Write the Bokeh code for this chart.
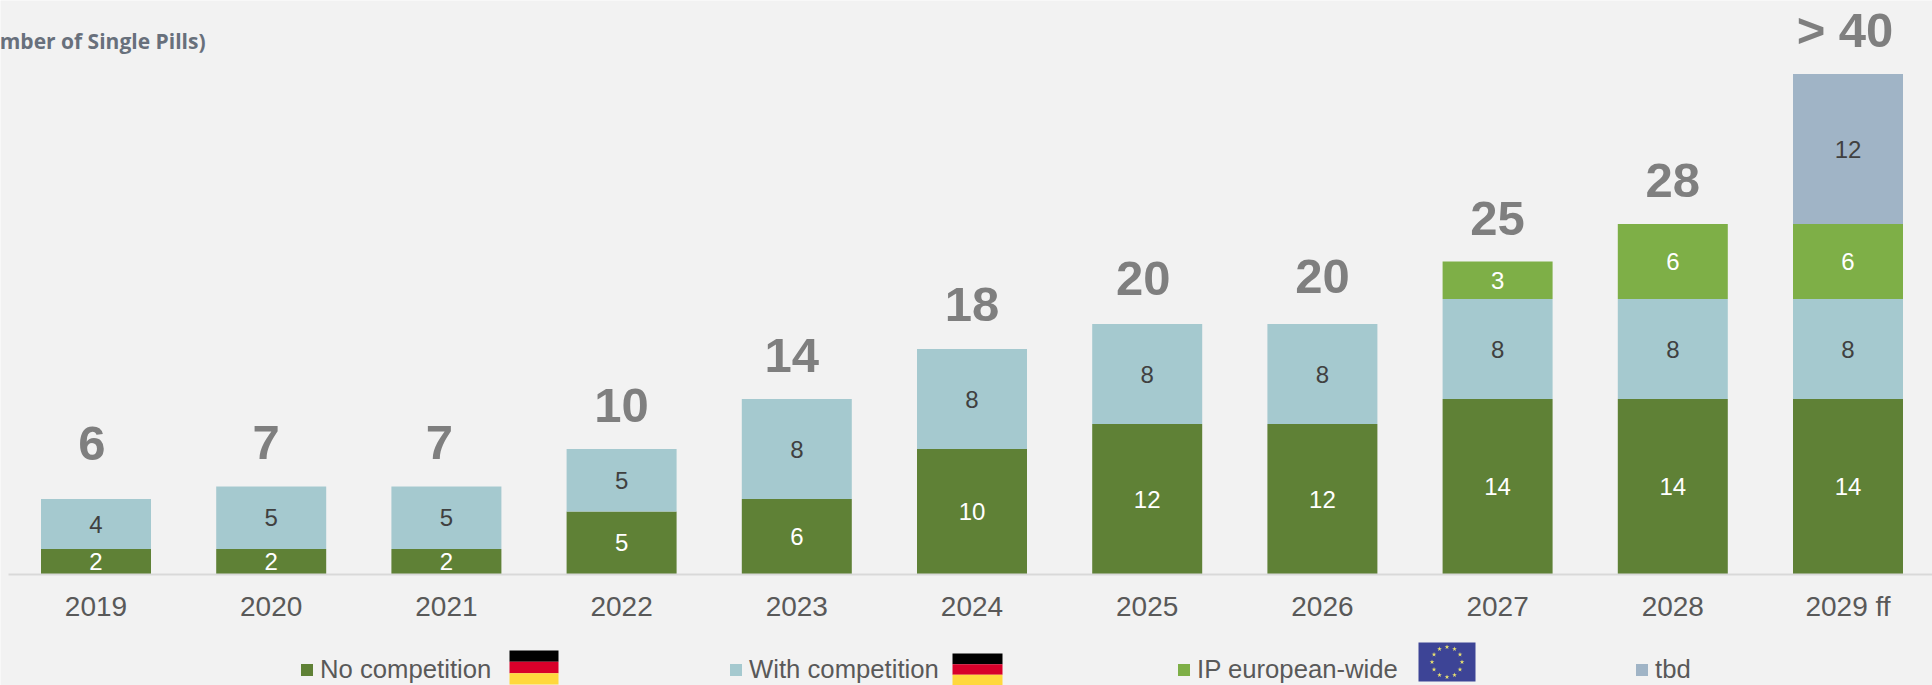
from bokeh.plotting import figure
from bokeh.models import (ColumnDataSource, Range1d, FixedTicker, Legend, LegendItem)
from bokeh.core.properties import value
from bokeh.embed import file_html
from bokeh.resources import INLINE
import math

# ---- data ----
years = ["2019", "2020", "2021", "2022", "2023", "2024", "2025", "2026", "2027", "2028", "2029 ff"]
no_competition = [2, 2, 2, 5, 6, 10, 12, 12, 14, 14, 14]
with_competition = [4, 5, 5, 5, 8, 8, 8, 8, 8, 8, 8]
ip_european = [0, 0, 0, 0, 0, 0, 0, 0, 3, 6, 6]
tbd = [0, 0, 0, 0, 0, 0, 0, 0, 0, 0, 12]
total_labels = ["6", "7", "7", "10", "14", "18", "20", "20", "25", "28", "> 40"]
series_names = ["No competition", "With competition", "IP european-wide", "tbd"]
title_text = "mber of Single Pills)"

# ---- style / layout ----
W, H = 1932, 685
BG = "#f2f2f2"
colors = ["#5f8136", "#a5c9cf", "#7eaf47", "#a0b4c6"]
label_colors = ["#ffffff", "#404040", "#ffffff", "#404040"]
FONT = "Liberation Sans"
PX_X = 175.2
X0 = 95.5
PX_Y = 12.5
BASE = 573.5
total_lift = [56, 44, 44, 44, 44, 45, 46, 48, 43, 44, 44]
total_nudge = [-4, -5, -7, 0, -5, 0, -4, 0, 0, 0, -3]


def dx(px):
    return (px - X0) / PX_X


def dy(py):
    return (BASE - py) / PX_Y


p = figure(width=W, height=H, output_backend="svg", toolbar_location=None,
           x_range=Range1d(dx(0), dx(W)), y_range=Range1d(dy(H), dy(0)),
           min_border=0, background_fill_color=BG, border_fill_color=BG,
           outline_line_color=None)
p.grid.visible = False
p.yaxis.visible = False

xs = list(range(len(years)))
series = [no_competition, with_competition, ip_european, tbd]
bottom = [0] * len(xs)
renderers = []
seg_x, seg_y, seg_t, seg_c = [], [], [], []
for vals, col, lc in zip(series, colors, label_colors):
    top = [b + v for b, v in zip(bottom, vals)]
    src = ColumnDataSource(dict(x=xs, bottom=bottom, top=top))
    renderers.append(p.vbar(x="x", bottom="bottom", top="top", width=110 / PX_X, source=src,
                            fill_color=col, line_color=None))
    for i, v in enumerate(vals):
        if v:
            seg_x.append(i)
            seg_y.append(bottom[i] + v / 2)
            seg_t.append(str(v))
            seg_c.append(lc)
    bottom = top

p.text(x="x", y="y", text="t", text_color="c",
       source=ColumnDataSource(dict(x=seg_x, y=seg_y, t=seg_t, c=seg_c)),
       text_font=value(FONT), text_font_size="24px", text_align="center", text_baseline="middle")

p.text(x="x", y="y", text="t", x_offset="n", y_offset="o",
       source=ColumnDataSource(dict(x=xs, y=bottom, t=total_labels, n=total_nudge,
                                    o=[-v for v in total_lift])),
       text_font=value(FONT), text_font_size="49px", text_font_style="bold", text_color="#7f7f7f",
       text_align="center", text_baseline="middle")

# axis on the baseline
ax = p.xaxis[0]
ax.fixed_location = 0
ax.ticker = FixedTicker(ticks=xs)
ax.major_label_overrides = {i: y for i, y in enumerate(years)}
ax.major_tick_line_color = None
ax.minor_tick_line_color = None
ax.axis_line_color = "#d9d9d9"
ax.axis_line_width = 2
ax.bounds = (dx(8), dx(W))
ax.major_label_text_font = FONT
ax.major_label_text_font_size = "28px"
ax.major_label_text_color = "#595959"
ax.major_label_standoff = 11

# title fragment, clipped at the left edge in the reference
p.text(x=[dx(205)], y=[dy(40)], text=[title_text], text_font=value("Open Sans"),
       text_font_size="21px", text_font_style="bold", text_color="#68707c",
       text_align="right", text_baseline="middle")

# legends
legend_px = [299, 728, 1176, 1634]
for r, name, lx in zip(renderers, series_names, legend_px):
    leg = Legend(items=[LegendItem(label=name, renderers=[r])],
                 location=(lx, H - 684), orientation="horizontal",
                 glyph_width=15, glyph_height=15, label_standoff=6, padding=0, margin=0,
                 background_fill_alpha=0, border_line_color=None,
                 label_text_font=FONT, label_text_font_size="25.7px", label_text_color="#595959",
                 label_height=30)
    p.add_layout(leg, "center")


# flags (decorative)
def flag(x0, x1, y0, y1, cols):
    n = len(cols)
    for i, c in enumerate(cols):
        p.quad(left=[dx(x0)], right=[dx(x1)],
               top=[dy(y0 + (y1 - y0) * i / n)], bottom=[dy(y0 + (y1 - y0) * (i + 1) / n)],
               fill_color=c, line_color=None)


DE = ["#000000", "#d8002a", "#ffd83d"]
flag(509, 558, 650, 684, DE)
flag(952, 1002, 653, 685, DE)
flag(1418, 1475, 642, 681, ["#3d4496"])
cx, cy, rad = 1446.5, 661.5, 15
star_x = [dx(cx + rad * math.cos(math.radians(a))) for a in range(0, 360, 30)]
star_y = [dy(cy + rad * math.sin(math.radians(a))) for a in range(0, 360, 30)]
p.scatter(star_x, star_y, marker="star", size=5, fill_color="#e8e070", line_color=None)

open("out.html", "w").write(file_html(p, INLINE))
